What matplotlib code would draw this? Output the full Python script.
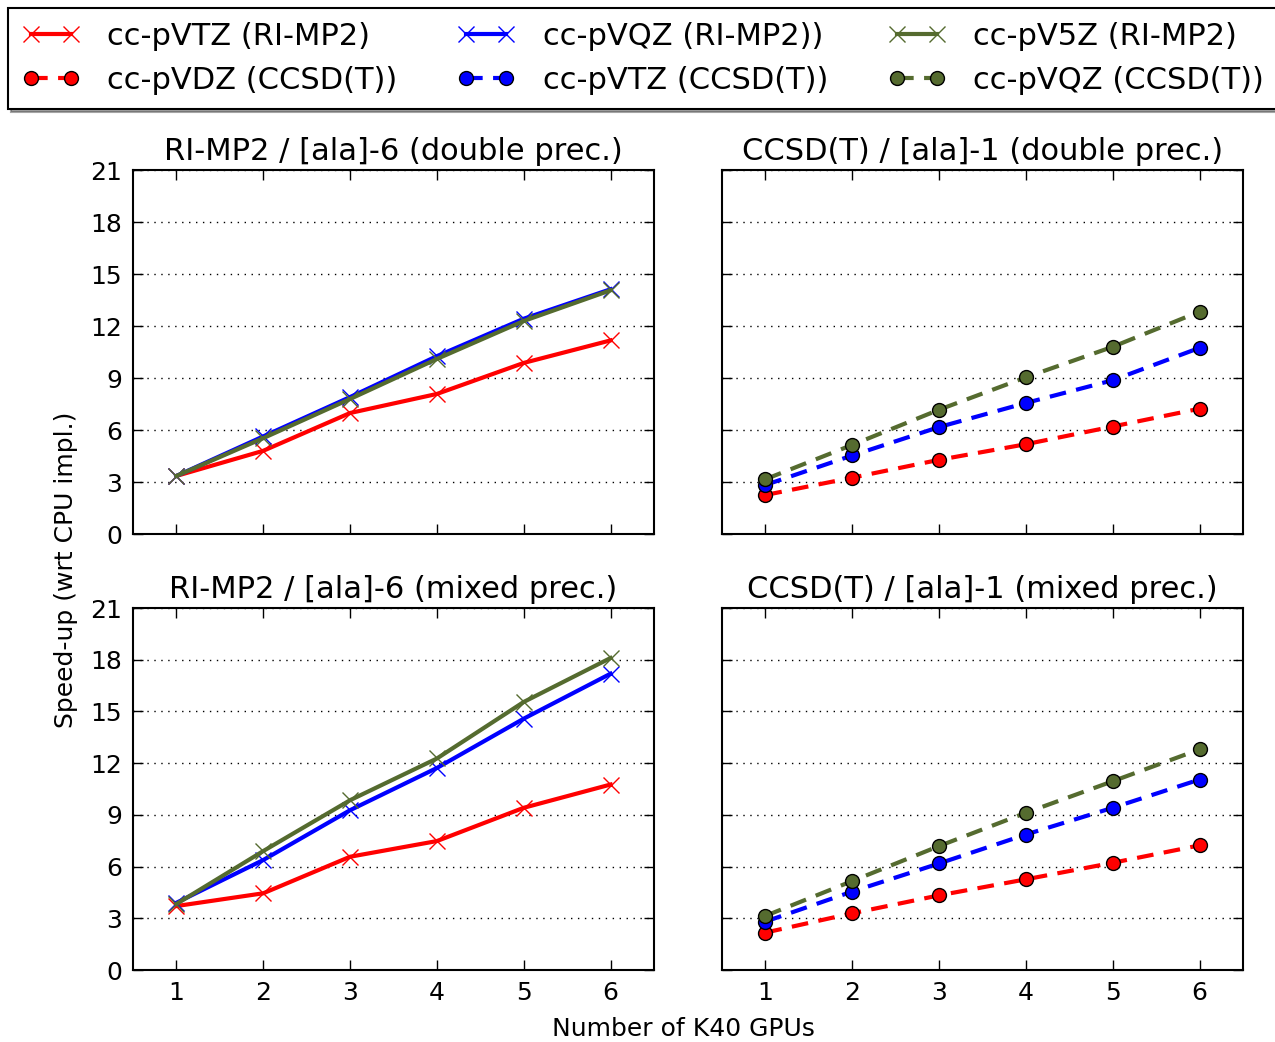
import numpy as np
import matplotlib
matplotlib.use('Agg')
import matplotlib.pyplot as plt

gpus = [1, 2, 3, 4, 5, 6]

# RI-MP2 / [ala]-6, double precision
dbl_vtz_mp2 = [3.35, 4.80, 6.98, 8.08, 9.87, 11.17]
dbl_vqz_mp2 = [3.35, 5.63, 7.90, 10.26, 12.42, 14.12]
dbl_v5z_mp2 = [3.35, 5.53, 7.79, 10.10, 12.29, 14.06]

# CCSD(T) / [ala]-1, double precision
dbl_vdz_cc = [2.25, 3.25, 4.28, 5.18, 6.20, 7.23]
dbl_vtz_cc = [2.83, 4.53, 6.17, 7.56, 8.87, 10.74]
dbl_vqz_cc = [3.16, 5.14, 7.17, 9.04, 10.80, 12.83]

# RI-MP2 / [ala]-6, mixed precision
mix_vtz_mp2 = [3.71, 4.45, 6.57, 7.48, 9.41, 10.76]
mix_vqz_mp2 = [3.90, 6.38, 9.27, 11.72, 14.58, 17.19]
mix_v5z_mp2 = [3.83, 6.90, 9.85, 12.27, 15.55, 18.10]

# CCSD(T) / [ala]-1, mixed precision
mix_vdz_cc = [2.17, 3.29, 4.33, 5.26, 6.22, 7.23]
mix_vtz_cc = [2.81, 4.55, 6.18, 7.86, 9.41, 11.05]
mix_vqz_cc = [3.14, 5.16, 7.19, 9.12, 10.95, 12.80]

titles = ['RI-MP2 / [ala]-6 (double prec.)', 'CCSD(T) / [ala]-1 (double prec.)',
          'RI-MP2 / [ala]-6 (mixed prec.)', 'CCSD(T) / [ala]-1 (mixed prec.)']
mp2_labels = ['cc-pVTZ (RI-MP2)', 'cc-pVQZ (RI-MP2))', 'cc-pV5Z (RI-MP2)']
cc_labels = ['cc-pVDZ (CCSD(T))', 'cc-pVTZ (CCSD(T))', 'cc-pVQZ (CCSD(T))']
colors = ['red', 'blue', '#556b2f']

W, H = 1275, 1042
fig = plt.figure(figsize=(W/100, H/100), dpi=100)

def box(x0, y0, x1, y1):
    return [x0/W, 1 - y1/H, (x1 - x0)/W, (y1 - y0)/H]

ax_tl = fig.add_axes(box(133, 170, 654, 534))
ax_tr = fig.add_axes(box(722, 170, 1243, 534))
ax_bl = fig.add_axes(box(133, 608, 654, 970))
ax_br = fig.add_axes(box(722, 608, 1243, 970))

panels = [
    (ax_tl, [dbl_vtz_mp2, dbl_vqz_mp2, dbl_v5z_mp2], 'mp2'),
    (ax_tr, [dbl_vdz_cc, dbl_vtz_cc, dbl_vqz_cc], 'cc'),
    (ax_bl, [mix_vtz_mp2, mix_vqz_mp2, mix_v5z_mp2], 'mp2'),
    (ax_br, [mix_vdz_cc, mix_vtz_cc, mix_vqz_cc], 'cc'),
]

handles = {}
for i, (ax, series, kind) in enumerate(panels):
    for j, ys in enumerate(series):
        if kind == 'mp2':
            ln, = ax.plot(gpus, ys, '-', color=colors[j], lw=3, marker='x',
                          ms=11, mew=1, label=mp2_labels[j])
        else:
            ln, = ax.plot(gpus, ys, '--', color=colors[j], lw=3, marker='o',
                          ms=10, mec='black', mew=1, label=cc_labels[j],
                          dashes=(4, 2.5))
        handles[ln.get_label()] = ln
    ax.set_xlim(0.5, 6.5)
    ax.set_ylim(0, 21)
    ax.set_xticks(gpus)
    ax.set_yticks(range(0, 22, 3))
    ax.yaxis.grid(True, linestyle=(0, (1, 4)), color='black', lw=1)
    ax.tick_params(direction='in', top=True, right=True, length=7, width=1,
                   labelsize=18, pad=8)
    for s in ax.spines.values():
        s.set_linewidth(1.5)
    ax.set_title(titles[i], fontsize=22, pad=7)
    if i < 2:
        ax.tick_params(labelbottom=False)
    if i % 2 == 1:
        ax.tick_params(labelleft=False)

fig.text(66/W, 1 - 570/H, 'Speed-up (wrt CPU impl.)', rotation=90,
         fontsize=18, ha='center', va='center')
fig.text(683/W, 1 - 1029/H, 'Number of K40 GPUs', fontsize=18,
         ha='center', va='center')

order = [mp2_labels[0], cc_labels[0], mp2_labels[1], cc_labels[1],
         mp2_labels[2], cc_labels[2]]
leg = fig.legend([handles[k] for k in order], order, ncol=3,
                 loc='upper left', bbox_to_anchor=(8/W, 1 - 8/H),
                 fontsize=22, numpoints=2, shadow=True, fancybox=False,
                 handlelength=1.9, handletextpad=0.9, columnspacing=1.95,
                 borderpad=0.45, labelspacing=0.5, framealpha=1,
                 borderaxespad=0)
leg.get_frame().set_edgecolor('black')
leg.get_frame().set_linewidth(1.5)

plt.savefig('out.png', dpi=100)
